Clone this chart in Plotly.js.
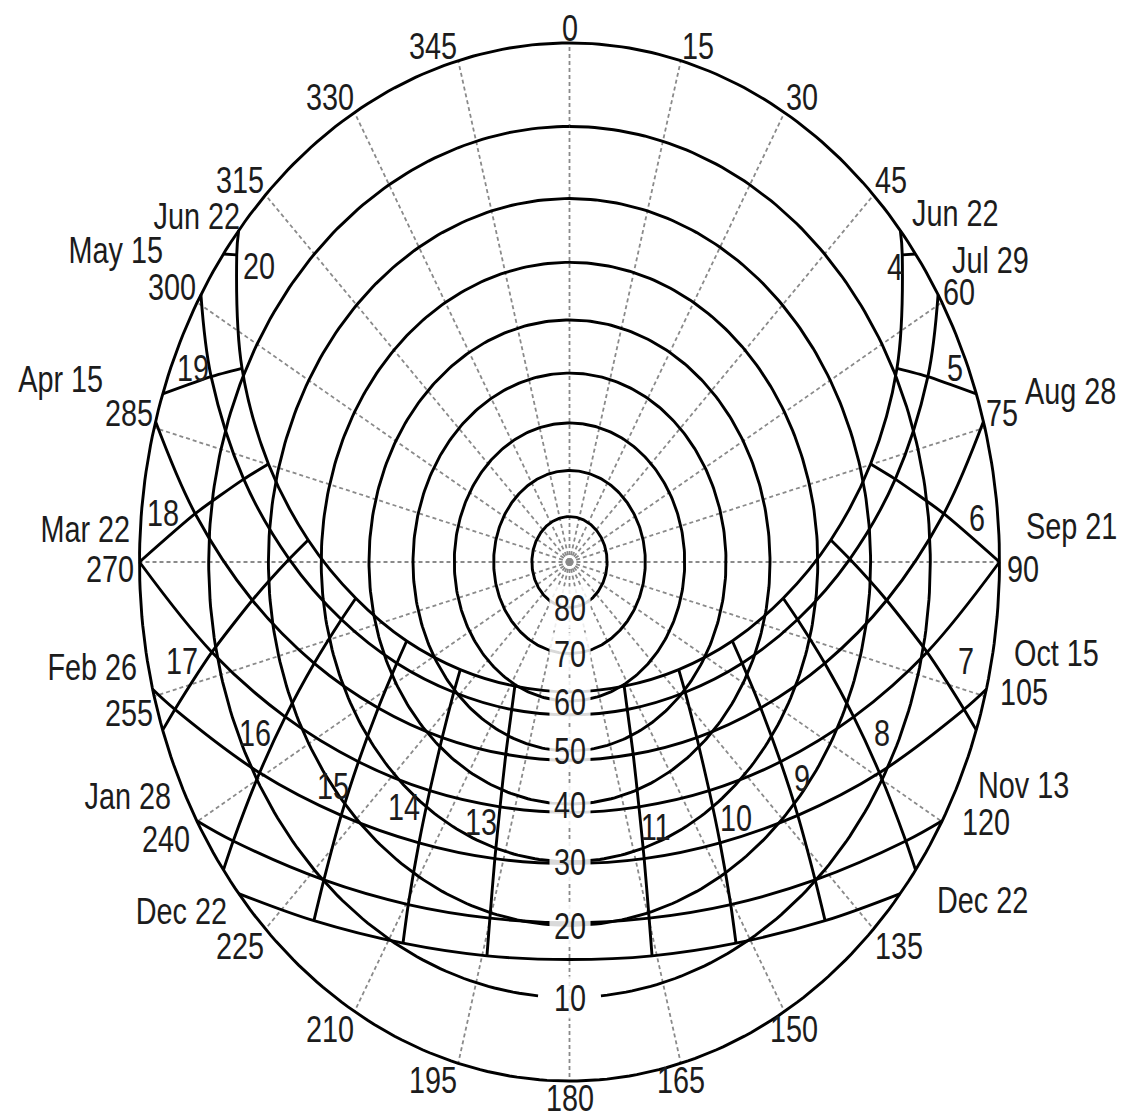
<!DOCTYPE html>
<html><head><meta charset="utf-8">
<script src="https://cdn.plot.ly/plotly-3.0.1.min.js"></script>
<style>html,body{margin:0;padding:0;background:#fff}</style>
</head><body><div id="chart" style="width:1126px;height:1117px"></div>
<script>
// Sun path diagram (latitude about 51.5 N), stereographic projection.
// Azimuth in degrees clockwise from North, altitude in degrees.
const hours = [4,5,6,7,8,9,10,11,12,13,14,15,16,17,18,19,20];
const dateLabelsLeft  = ['Jun 22','May 15','Apr 15','Mar 22','Feb 26','Jan 28','Dec 22'];
const dateLabelsRight = ['Jun 22','Jul 29','Aug 28','Sep 21','Oct 15','Nov 13','Dec 22'];

// hourly sun positions per date path (null = sun below horizon)
const azJun22  = [52.6,63.9,74.9,86.0,98.0,111.9,129.2,152.0,180,208.0,230.8,248.1,262.0,274.0,285.1,296.1,307.4];
const altJun22 = [1.5,9.4,18.1,27.3,36.7,45.6,53.7,59.7,61.9,59.7,53.7,45.6,36.7,27.3,18.1,9.4,1.5];
const azMay    = [null,66.8,78.1,89.5,101.8,115.9,133.0,154.7,180,205.3,227.0,244.1,258.2,270.5,281.9,293.2,null];
const altMay   = [null,5.6,14.5,23.8,33.1,41.9,49.6,55.1,57.2,55.1,49.6,41.9,33.1,23.8,14.5,5.6,null];
const azApr    = [null,null,83.9,95.7,108.2,122.3,138.8,158.2,180,201.8,221.2,237.7,251.8,264.3,276.1,null,null];
const altApr   = [null,null,7.6,16.9,26.0,34.5,41.6,46.5,48.2,46.5,41.6,34.5,26.0,16.9,7.6,null,null];
const azMar    = [null,null,null,101.8,114.3,128.1,143.6,161.1,180,198.9,216.4,231.9,245.7,258.2,null,null,null];
const altMar   = [null,null,null,9.3,18.1,26.1,32.6,37.0,38.5,37.0,32.6,26.1,18.1,9.3,null,null,null];
const azFeb    = [null,null,null,107.2,119.4,132.6,147.1,163.1,180,196.9,212.9,227.4,240.6,252.8,null,null,null];
const altFeb   = [null,null,null,2.3,10.8,18.4,24.4,28.3,29.7,28.3,24.4,18.4,10.8,2.3,null,null,null];
const azJan    = [null,null,null,null,124.5,137.0,150.4,164.9,180,195.1,209.6,223.0,235.5,null,null,null,null];
const altJan   = [null,null,null,null,3.0,10.1,15.6,19.2,20.4,19.2,15.6,10.1,3.0,null,null,null,null];
const azDec22  = [null,null,null,null,null,139.3,152.2,165.8,180,194.2,207.8,220.7,null,null,null,null,null];
const altDec22 = [null,null,null,null,null,5.3,10.6,13.9,15.1,13.9,10.6,5.3,null,null,null,null,null];

// sunrise / sunset azimuths for each path (altitude 0)
const riseAz = [50.3,59.0,74.3,90.0,104.2,119.9,129.7];
const setAz  = [309.7,301.0,285.7,270.0,255.8,240.1,230.3];
// where each hour line meets the horizon (null = it ends on the Dec 22 path)
const hourEndAz = [53.6,71.1,90.0,108.9,126.4,null,null,null,null,null,null,null,233.6,251.1,270.0,288.9,306.4];

const altRings = [0,10,20,30,40,50,60,70,80];
const altLabels = ['10','20','30','40','50','60','70','80'];
const azTicks = [0,15,30,45,60,75,90,105,120,135,150,165,180,195,210,225,240,255,270,285,300,315,330,345];

const AZ  = [azJun22,azMay,azApr,azMar,azFeb,azJan,azDec22];
const ALT = [altJun22,altMay,altApr,altMar,altFeb,altJan,altDec22];

const D = Math.PI/180;
function proj(az, alt){ const r = Math.tan((90-alt)/2*D); return [r*Math.sin(az*D), r*Math.cos(az*D)]; }

const traces = [];
const FONT = 'Liberation Sans, Arial, Helvetica, sans-serif';
const LW = 2.9;

// azimuth grid lines
azTicks.forEach(a=>{
  const p0 = proj(a,90), p1 = proj(a,0);
  traces.push({type:'scatter',mode:'lines',x:[p0[0],p1[0]],y:[p0[1],p1[1]],
    line:{color:'#8a8a8a',width:1.8,dash:'4px,3px'},hoverinfo:'skip'});
});
// altitude rings
altRings.forEach(alt=>{
  const xs=[], ys=[];
  for(let a=0;a<=360;a+=1){
    if(alt===10 && a>=176 && a<=184){ xs.push(null); ys.push(null); continue; }
    const p = proj(a,alt); xs.push(p[0]); ys.push(p[1]);
  }
  traces.push({type:'scatter',mode:'lines',x:xs,y:ys,line:{color:'#000',width:LW},hoverinfo:'skip'});
});
// sun paths
AZ.forEach((azs,d)=>{
  const pts = [[riseAz[d],0]];
  azs.forEach((a,i)=>{ if(a!==null && ALT[d][i]!==null) pts.push([a,ALT[d][i]]); });
  pts.push([setAz[d],0]);
  const xy = pts.map(p=>proj(p[0],p[1]));
  traces.push({type:'scatter',mode:'lines',x:xy.map(p=>p[0]),y:xy.map(p=>p[1]),
    line:{color:'#000',width:LW,shape:'spline',smoothing:1},hoverinfo:'skip'});
});
// hour lines
hours.forEach((h,i)=>{
  if(h===12) return;
  const pts=[];
  AZ.forEach((azs,d)=>{ if(azs[i]!==null && ALT[d][i]!==null) pts.push([azs[i],ALT[d][i]]); });
  if(hourEndAz[i]!==null) pts.push([hourEndAz[i],0]);
  const xy = pts.map(p=>proj(p[0],p[1]));
  traces.push({type:'scatter',mode:'lines',x:xy.map(p=>p[0]),y:xy.map(p=>p[1]),
    line:{color:'#000',width:LW,shape:'spline',smoothing:0.6},hoverinfo:'skip'});
});

const ann = [];
const fnt = {family:FONT,size:36,color:'#1c1c1c'};
// azimuth labels placed just outside the horizon circle
const azSpecial = {60:{dy:-12},90:{dx:6,dy:-6},270:{dx:-5,dy:-6},105:{ya:'middle',dx:14,dy:5},120:{ya:'middle',dx:19,dy:0},
  150:{dx:-16},165:{xa:'center'},240:{dx:-6},180:{dy:6}};
azTicks.forEach(a=>{
  const p = proj(a,0);
  let xa='center', ya='middle';
  if(a>0 && a<180) xa='left'; else if(a>180) xa='right';
  if(a<90 || a>270) ya='bottom'; else if(a>90 && a<270) ya='top';
  const s = azSpecial[a] || {};
  if(s.xa) xa=s.xa; if(s.ya) ya=s.ya;
  let dy = ya==='bottom' ? -7 : (ya==='top' ? 6 : 0);
  if(s.dy!==undefined) dy = s.dy;
  ann.push({x:p[0],y:p[1],xref:'x',yref:'y',text:String(a),showarrow:false,xanchor:xa,yanchor:ya,
    xshift:s.dx||0,yshift:dy,font:fnt,borderpad:0});
});
// altitude labels along South
altLabels.forEach((t,i)=>{
  const p = proj(180,altRings[i+1]);
  ann.push({x:p[0],y:p[1],xref:'x',yref:'y',text:t,showarrow:false,xanchor:'center',yanchor:'middle',
    font:fnt,bgcolor:'rgba(255,255,255,0.85)',borderpad:0});
});
// date labels
const rightShift = [[11,-18],[13,-35],[41,-31],[25,-37],[27,-37],[35,-36],[36,6]];
const leftShift  = [[2,-15],[-37,-45],[-52,-43],[-9,-34],[-15,-23],[-25,-25],[-11,17]];
dateLabelsRight.forEach((t,d)=>{
  const p = proj(riseAz[d],0);
  ann.push({x:p[0],y:p[1],xref:'x',yref:'y',text:t,showarrow:false,xanchor:'left',yanchor:'middle',
    xshift:rightShift[d][0],yshift:-rightShift[d][1],font:fnt,borderpad:0});
});
dateLabelsLeft.forEach((t,d)=>{
  const p = proj(setAz[d],0);
  ann.push({x:p[0],y:p[1],xref:'x',yref:'y',text:t,showarrow:false,xanchor:'right',yanchor:'middle',
    xshift:leftShift[d][0],yshift:-leftShift[d][1],font:fnt,borderpad:0});
});
// hour labels
const hourShift = {4:[-7,12],5:[-21,-26],6:[-23,-45],7:[39,8],8:[28,16],9:[21,16],10:[27,27],11:[17,20],
  13:[-19,15],14:[-26,16],15:[-25,24],16:[-30,16],17:[-30,8],18:[23,-50],19:[30,-26],20:[22,11]};
hours.forEach((h,i)=>{
  if(h===12) return;
  let ref;
  if(h===4||h===20) ref=[azJun22[i],altJun22[i]];
  else if(altMar[i]!==null) ref=[azMar[i],altMar[i]];
  else ref=[hourEndAz[i],0];
  const p = proj(ref[0],ref[1]);
  ann.push({x:p[0],y:p[1],xref:'x',yref:'y',text:String(h),showarrow:false,xanchor:'center',yanchor:'middle',
    xshift:hourShift[h][0],yshift:-hourShift[h][1],font:fnt,borderpad:0});
});

const layout = {
  width:1126,height:1117,
  margin:{l:118,r:105,t:17,b:10,pad:0},
  paper_bgcolor:'#fff',plot_bgcolor:'#fff',
  showlegend:false,hovermode:false,
  xaxis:{range:[-1.05,1.05],visible:false,fixedrange:true},
  yaxis:{range:[-1.05,1.05],visible:false,fixedrange:true},
  annotations:ann
};

// the reference lettering is a narrow, tall face: condense each label around its anchor side
function condense(gd){
  gd.querySelectorAll('g.annotation').forEach(g=>{
    const i = +g.getAttribute('data-index');
    const a = layout.annotations[i]; if(!a) return;
    const ox = a.xanchor==='left' ? 'left' : (a.xanchor==='right' ? 'right' : 'center');
    const oy = a.yanchor==='top' ? 'top' : (a.yanchor==='bottom' ? 'bottom' : 'center');
    g.querySelectorAll('text.annotation-text').forEach(t=>{
      t.style.transformBox='fill-box';
      t.style.transformOrigin = ox+' '+oy;
      t.style.transform='scale(0.8,1.05)';
    });
  });
}
Plotly.newPlot('chart',traces,layout,{staticPlot:true,displayModeBar:false}).then(gd=>condense(gd));
</script></body></html>
